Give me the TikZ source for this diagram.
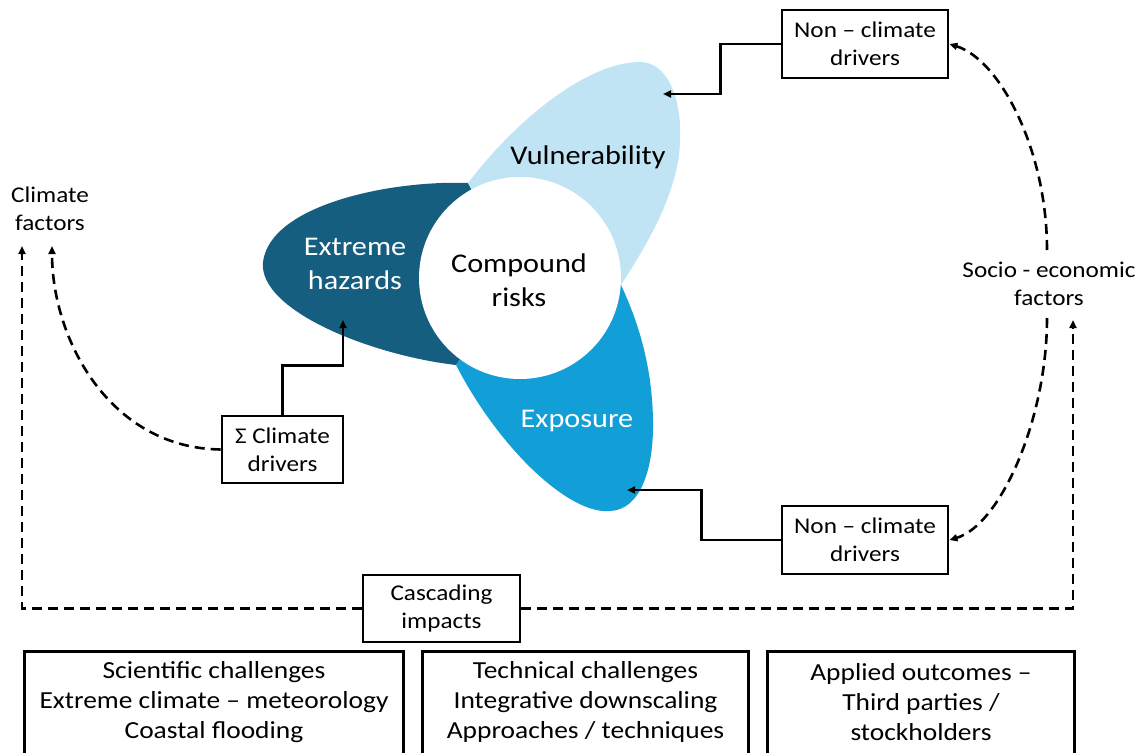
\documentclass[tikz,border=0pt]{standalone}
\usepackage{fontspec}
\setmainfont{Carlito}[FakeStretch=1.12]
\usetikzlibrary{arrows.meta}
\definecolor{hazc}{RGB}{22,94,128}
\definecolor{vulc}{RGB}{192,228,244}
\definecolor{expc}{RGB}{18,158,214}
\begin{document}
\begin{tikzpicture}[x=1pt,y=-1pt,
  boxfont/.style={font=\fontsize{22.5}{28}\selectfont},
  petalfont/.style={font=\fontsize{27}{34}\selectfont},
  box/.style={draw,line width=2.8pt,align=center,inner sep=0pt,boxfont},
  plain/.style={align=center,inner sep=0pt,boxfont},
  btext/.style={align=center,inner sep=0pt,font=\fontsize{24.5}{30}\selectfont},
  conn/.style={line width=2.5pt,-{Triangle[length=8pt,width=7pt]}},
  dconn/.style={line width=2.6pt,dash pattern=on 10pt off 6pt,-{Triangle[length=8pt,width=7pt]}},
  bline/.style={line width=2.8pt}]
\clip (0,0) rectangle (1148,752);
\useasboundingbox (0,0) rectangle (1148,752);
% centre and petal junctions
\coordinate (ctr) at (520,278);
\coordinate (jHV) at (468,183);
\coordinate (jVE) at (621,285);
\coordinate (jHE) at (456,365);
% petals
\fill[hazc] (jHV) .. controls (390,180) and (270,205) .. (263,262)
   .. controls (258,310) and (370,355) .. (jHE) -- (ctr) -- cycle;
\fill[vulc] (jHV) .. controls (520,115) and (590,62) .. (640,62)
   .. controls (668,62) and (682,100) .. (680,140)
   .. controls (679,190) and (650,240) .. (jVE) -- (ctr) -- cycle;
\fill[expc] (jHE) .. controls (500,450) and (570,515) .. (610,511)
   .. controls (640,510) and (654,470) .. (653,420)
   .. controls (652,360) and (635,315) .. (jVE) -- (ctr) -- cycle;
\fill[white] (ctr) circle [radius=101];
% petal labels
\node[petalfont,align=center] (vul) at (588,157) {Vulnerability};
\node[petalfont,align=center,white] (haz) at (355,264) {Extreme\\hazards};
\node[petalfont,align=center,white] (exp) at (577,421) {Exposure};
\node[petalfont,align=center] (cr) at (519,280) {Compound\\risks};
% boxes
\node[box,minimum width=166pt,minimum height=68pt] (ntop) at (865,44) {Non – climate\\drivers};
\node[box,minimum width=166pt,minimum height=68pt] (nbot) at (865,540) {Non – climate\\drivers};
\node[box,minimum width=121pt,minimum height=67pt] (sig) at (282.5,449.5) {Σ Climate\\drivers};
\node[box,minimum width=157pt,minimum height=67pt] (casc) at (441.5,608.5) {Cascading\\impacts};
\node[plain] (cf) at (50,209) {Climate\\factors};
\node[plain] (se) at (1049,284) {Socio - economic\\factors};
% bottom boxes
\node[btext,minimum width=378pt,minimum height=100pt] (b1) at (214,702) {Scientific challenges\\Extreme climate – meteorology\\Coastal flooding};
\node[btext,minimum width=325pt,minimum height=100pt] (b2) at (585.5,702) {Technical challenges\\Integrative downscaling\\Approaches / techniques};
\node[btext,minimum width=306pt,minimum height=100pt] (b3) at (921,702) {Applied outcomes –\\Third parties /\\stockholders};
\foreach \b in {b1,b2,b3}
  \draw[bline] ([yshift=-30pt]\b.south west) -- (\b.north west) -- (\b.north east) -- ([yshift=-30pt]\b.south east);
% connector end points
\coordinate (vulT) at (663,94);
\coordinate (expT) at (627,490);
\coordinate (hazT) at (343,320);
\coordinate (cfL) at (22,246);
\coordinate (cfA) at (52,246);
\coordinate (seR) at (1073,320);
\coordinate (seTop) at (1047,250);
\coordinate (seBot) at (1047,318);
% solid connectors
\draw[conn] (ntop.west) -- ++(-60,0) |- (vulT);
\draw[conn] (nbot.west) -- ++(-79,0) |- (expT);
\draw[conn] (sig.north) -- ++(0,-49) -| (hazT);
% dashed connectors
\draw[dconn] (casc.west) -| (cfL);
\draw[dconn] (casc.east) -| (seR);
\draw[dconn] (sig.west) .. controls (110,448) and (52,340) .. (cfA);
\draw[dconn] (seTop) .. controls (1047,150) and (1000,60) .. (ntop.east);
\draw[dconn] (seBot) .. controls (1047,420) and (1000,525) .. (nbot.east);
\end{tikzpicture}
\end{document}
